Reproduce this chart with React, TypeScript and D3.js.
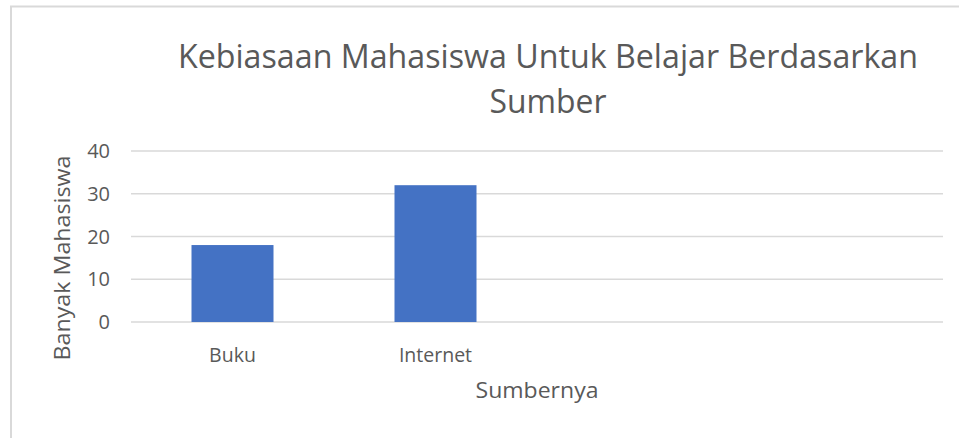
import React from "react";
import * as d3 from "d3";

const categories = ["Buku", "Internet", "", ""];
const values = [18, 32, null, null];
const yTicks = [0, 10, 20, 30, 40];
const titleLines = ["Kebiasaan Mahasiswa Untuk Belajar Berdasarkan", "Sumber"];
const xTitle = "Sumbernya";
const yTitle = "Banyak Mahasiswa";

const W = 959;
const H = 438;
const font = "'Open Sans', 'Noto Sans', sans-serif";
const textColor = "#595959";

export default function App() {
  const slot = d3.scaleBand<string>()
    .domain(categories.map((c, i) => String(i)))
    .range([131, 943]);
  const y = d3.scaleLinear().domain([0, 40]).range([322, 151]);

  return (
    <svg width={W} height={H} style={{ position: "absolute", left: 0, top: 0, background: "#fff" }}>
      <rect x={0} y={0} width={W} height={H} fill="#fff" />
      <path d={`M11,${H} V6.5 H${W}`} fill="none" stroke="#D9D9D9" strokeWidth={2} />
      <text x={548} y={68} textAnchor="middle" fontFamily={font} fontSize={32} fill={textColor}
        textLength={740} lengthAdjust="spacingAndGlyphs">{titleLines[0]}</text>
      <text x={548} y={113} textAnchor="middle" fontFamily={font} fontSize={32} fill={textColor}
        textLength={117} lengthAdjust="spacingAndGlyphs">{titleLines[1]}</text>
      {yTicks.map(t => (
        <g key={t}>
          <line x1={131} x2={943} y1={y(t)} y2={y(t)} stroke="#D9D9D9" strokeWidth={1.5} />
          <text x={110} y={y(t)} dy="0.36em" textAnchor="end" fontFamily={font} fontSize={20} fill={textColor}>{t}</text>
        </g>
      ))}
      {values.map((v, i) => v == null ? null : (
        <rect key={i} x={slot(String(i))! + slot.bandwidth() / 2 - 41} width={82}
          y={y(v)} height={y(0) - y(v)} fill="#4472C4" />
      ))}
      {categories.map((c, i) => (
        <text key={i} x={slot(String(i))! + slot.bandwidth() / 2} y={362} textAnchor="middle"
          fontFamily={font} fontSize={19.5} fill={textColor}>{c}</text>
      ))}
      <text x={537} y={398} textAnchor="middle" fontFamily={font} fontSize={21} fill={textColor}
        textLength={123} lengthAdjust="spacingAndGlyphs">{xTitle}</text>
      <text transform={`translate(70,258) rotate(-90)`} textAnchor="middle" fontFamily={font} fontSize={21}
        fill={textColor} textLength={205} lengthAdjust="spacingAndGlyphs">{yTitle}</text>
    </svg>
  );
}
